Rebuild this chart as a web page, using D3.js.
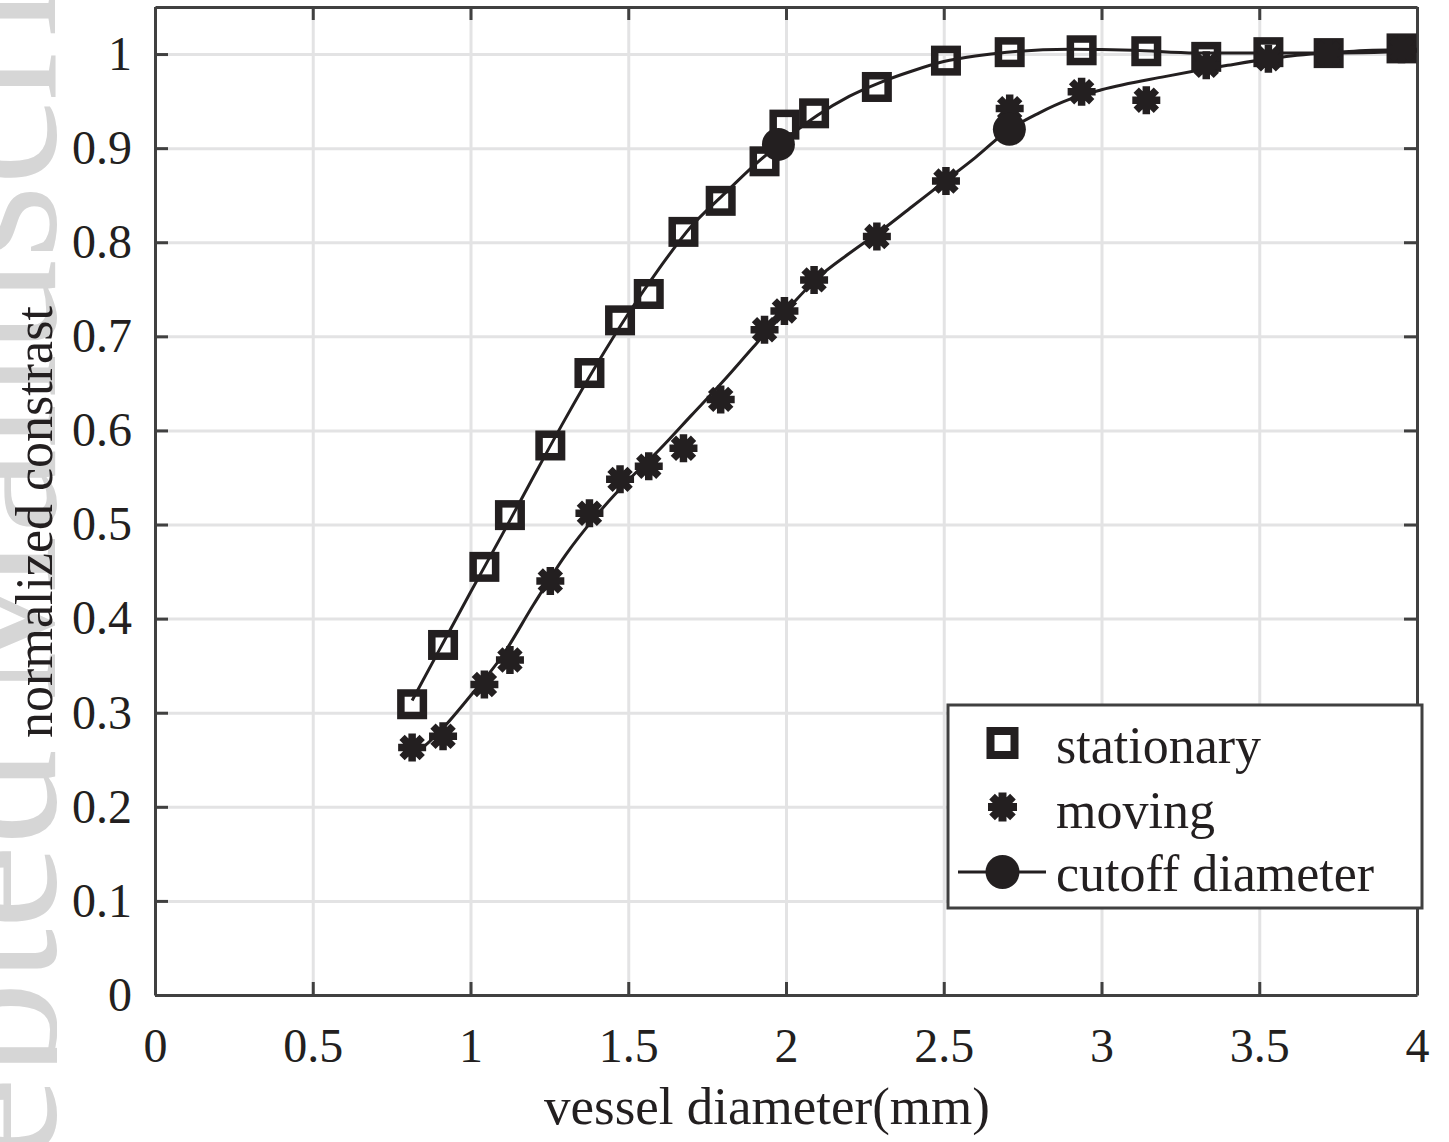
<!DOCTYPE html>
<html>
<head>
<meta charset="utf-8">
<script src="https://cdn.jsdelivr.net/npm/d3@7"></script>
<style>
  body { margin: 0; background: #fff; }
  svg { display: block; }
  text { font-family: "Liberation Serif", "Times New Roman", serif; fill: #231f20; }
</style>
</head>
<body>
<svg id="chart" width="1449" height="1142"></svg>
<script>
// Measured vessel diameters (mm), shared by both phantoms
const diameters = [0.815, 0.913, 1.044, 1.125, 1.253, 1.377, 1.474, 1.565, 1.675, 1.793,
                   1.932, 1.995, 2.089, 2.288, 2.507, 2.709, 2.937, 3.142, 3.332, 3.529, 3.720, 3.951];
// Normalized contrast, stationary vessels
const stationary = [0.309, 0.372, 0.455, 0.510, 0.584, 0.661, 0.717, 0.745, 0.811, 0.844,
                    0.886, 0.925, 0.937, 0.965, 0.993, 1.002, 1.004, 1.003, 0.997, 1.002, 1.001, 1.006];
// Normalized contrast, moving vessels
const moving = [0.263, 0.275, 0.330, 0.356, 0.440, 0.512, 0.548, 0.562, 0.581, 0.633,
                0.707, 0.727, 0.760, 0.806, 0.865, 0.942, 0.960, 0.951, 0.988, 0.995, 1.001, 1.005];

// Fitted curves
const stationaryFitD = [0.815, 0.9, 1.0, 1.1, 1.2, 1.3, 1.4, 1.5, 1.6, 1.7, 1.8, 1.9, 2.0, 2.1, 2.2,
                        2.3, 2.4, 2.5, 2.6, 2.7, 2.9, 3.1, 3.3, 3.5, 3.7, 4.0];
const stationaryFitV = [0.313, 0.366, 0.428, 0.489, 0.551, 0.612, 0.670, 0.724, 0.773, 0.817, 0.850,
                        0.882, 0.910, 0.935, 0.955, 0.970, 0.982, 0.992, 0.998, 1.002, 1.005, 1.004,
                        1.001, 1.001, 1.001, 1.003];
const movingFitD = [0.815, 0.9, 1.0, 1.1, 1.2, 1.3, 1.4, 1.5, 1.6, 1.7, 1.8, 1.9, 2.0, 2.1, 2.2, 2.3,
                    2.4, 2.5, 2.6, 2.7, 2.8, 2.9, 3.0, 3.2, 3.4, 3.6, 3.8, 4.0];
const movingFitV = [0.253, 0.279, 0.318, 0.360, 0.415, 0.467, 0.510, 0.547, 0.580, 0.616, 0.652, 0.690,
                    0.727, 0.762, 0.788, 0.812, 0.838, 0.864, 0.890, 0.918, 0.937, 0.952, 0.962, 0.976,
                    0.988, 0.998, 1.003, 1.005];

// Cutoff diameters on each fitted curve
const cutoffD = [1.976, 2.708];
const cutoffV = [0.904, 0.920];

const xTicks = [0, 0.5, 1, 1.5, 2, 2.5, 3, 3.5, 4];
const xTickLabels = ["0", "0.5", "1", "1.5", "2", "2.5", "3", "3.5", "4"];
const yTicks = [0, 0.1, 0.2, 0.3, 0.4, 0.5, 0.6, 0.7, 0.8, 0.9, 1];
const yTickLabels = ["0", "0.1", "0.2", "0.3", "0.4", "0.5", "0.6", "0.7", "0.8", "0.9", "1"];
const legendLabels = ["stationary", "moving", "cutoff diameter"];

const INK = "#231f20";
const AXIS = "#404040";
const GRID = "#e3e3e4";

const svg = d3.select("#chart");
const L = 155, R = 1417, T = 7, B = 995;
const x = d3.scaleLinear().domain([0, 4]).range([L, R]);
const y = d3.scaleLinear().domain([0, 1.05]).range([B, T]);

// faint page watermark in the left margin, cut at the figure edge
svg.append("defs").append("clipPath").attr("id", "margin-clip")
  .append("rect").attr("x", 0).attr("y", 0).attr("width", 57).attr("height", 1142);
svg.append("g").attr("clip-path", "url(#margin-clip)")
  .append("text")
  .attr("transform", "translate(55,1467) rotate(-90)")
  .attr("font-size", 190)
  .style("fill", "#d6d6d6")
  .text("Accepted Manuscript");

// white plotting area
svg.append("rect").attr("x", L).attr("y", T).attr("width", R - L).attr("height", B - T).attr("fill", "#fff");

// grid
const gx = svg.append("g").attr("transform", `translate(0,${B})`)
  .call(d3.axisBottom(x).tickValues(xTicks).tickSize(-(B - T)).tickFormat(""));
const gy = svg.append("g").attr("transform", `translate(${L},0)`)
  .call(d3.axisLeft(y).tickValues(yTicks).tickSize(-(R - L)).tickFormat(""));
[gx, gy].forEach(g => {
  g.select(".domain").remove();
  g.selectAll(".tick line").attr("stroke", GRID).attr("stroke-width", 3);
});

// axes with inward ticks on all four sides
function styleAxis(g) {
  g.select(".domain").attr("stroke", AXIS).attr("stroke-width", 3);
  g.selectAll(".tick line").attr("stroke", AXIS).attr("stroke-width", 3);
  g.selectAll(".tick text").attr("font-size", 48).attr("font-family", "Liberation Serif, serif").style("fill", INK);
  g.attr("font-family", null).attr("font-size", null);
}
svg.append("g").attr("transform", `translate(0,${B})`)
  .call(d3.axisBottom(x).tickValues(xTicks).tickSizeInner(-13).tickSizeOuter(0).tickPadding(33)
    .tickFormat((d, i) => xTickLabels[i]))
  .call(styleAxis);
svg.append("g").attr("transform", `translate(${L},0)`)
  .call(d3.axisLeft(y).tickValues(yTicks).tickSizeInner(-13).tickSizeOuter(0).tickPadding(23)
    .tickFormat((d, i) => yTickLabels[i]))
  .call(styleAxis);
svg.append("g").attr("transform", `translate(0,${T})`)
  .call(d3.axisTop(x).tickValues(xTicks).tickSizeInner(-13).tickSizeOuter(0).tickFormat(""))
  .call(styleAxis);
svg.append("g").attr("transform", `translate(${R},0)`)
  .call(d3.axisRight(y).tickValues(yTicks).tickSizeInner(-13).tickSizeOuter(0).tickFormat(""))
  .call(styleAxis);

// axis titles
svg.append("text").attr("x", 767).attr("y", 1124).attr("text-anchor", "middle")
  .attr("font-size", 53).text("vessel diameter(mm)");
svg.append("text").attr("transform", "translate(52,522) rotate(-90)").attr("text-anchor", "middle")
  .attr("font-size", 52).text("normalized constrast");

// fitted curves
const line = d3.line().x(d => x(d[0])).y(d => y(d[1])).curve(d3.curveMonotoneX);
svg.append("path").datum(d3.zip(stationaryFitD, stationaryFitV)).attr("d", line)
  .attr("fill", "none").attr("stroke", INK).attr("stroke-width", 3);
svg.append("path").datum(d3.zip(movingFitD, movingFitV)).attr("d", line)
  .attr("fill", "none").attr("stroke", INK).attr("stroke-width", 3);

// marker shapes
function starPath(r) {
  const k = r * 0.72;
  return `M${-r},0H${r}M0,${-r}V${r}M${-k},${-k}L${k},${k}M${-k},${k}L${k},${-k}`;
}

// stationary squares
svg.append("g").selectAll("rect").data(d3.zip(diameters, stationary)).join("rect")
  .attr("x", d => x(d[0]) - 11.25).attr("y", d => y(d[1]) - 11.25)
  .attr("width", 22.5).attr("height", 22.5)
  .attr("fill", "none").attr("stroke", INK).attr("stroke-width", 7.5);

// moving stars
svg.append("g").selectAll("path").data(d3.zip(diameters, moving)).join("path")
  .attr("transform", d => `translate(${x(d[0])},${y(d[1])})`)
  .attr("d", starPath(14)).attr("fill", "none").attr("stroke", INK).attr("stroke-width", 7.5);

// cutoff points
svg.append("g").selectAll("circle").data(d3.zip(cutoffD, cutoffV)).join("circle")
  .attr("cx", d => x(d[0])).attr("cy", d => y(d[1])).attr("r", 16.5).attr("fill", INK);

// legend
const lg = svg.append("g");
lg.append("rect").attr("x", 948).attr("y", 705).attr("width", 474).attr("height", 203)
  .attr("fill", "#fff").attr("stroke", AXIS).attr("stroke-width", 3);
lg.append("rect").attr("x", 1002.5 - 12).attr("y", 743 - 12).attr("width", 24).attr("height", 24)
  .attr("fill", "none").attr("stroke", INK).attr("stroke-width", 8);
lg.append("path").attr("transform", "translate(1002.5,807)").attr("d", starPath(14.5))
  .attr("fill", "none").attr("stroke", INK).attr("stroke-width", 8);
lg.append("line").attr("x1", 958).attr("x2", 1046).attr("y1", 872).attr("y2", 872)
  .attr("stroke", INK).attr("stroke-width", 3);
lg.append("circle").attr("cx", 1002.5).attr("cy", 872).attr("r", 17).attr("fill", INK);
const legendY = [763, 828, 891];
lg.selectAll("text.lab").data(legendLabels).join("text").attr("class", "lab")
  .attr("x", 1056).attr("y", (d, i) => legendY[i]).attr("font-size", 52).text(d => d);
</script>
</body>
</html>
